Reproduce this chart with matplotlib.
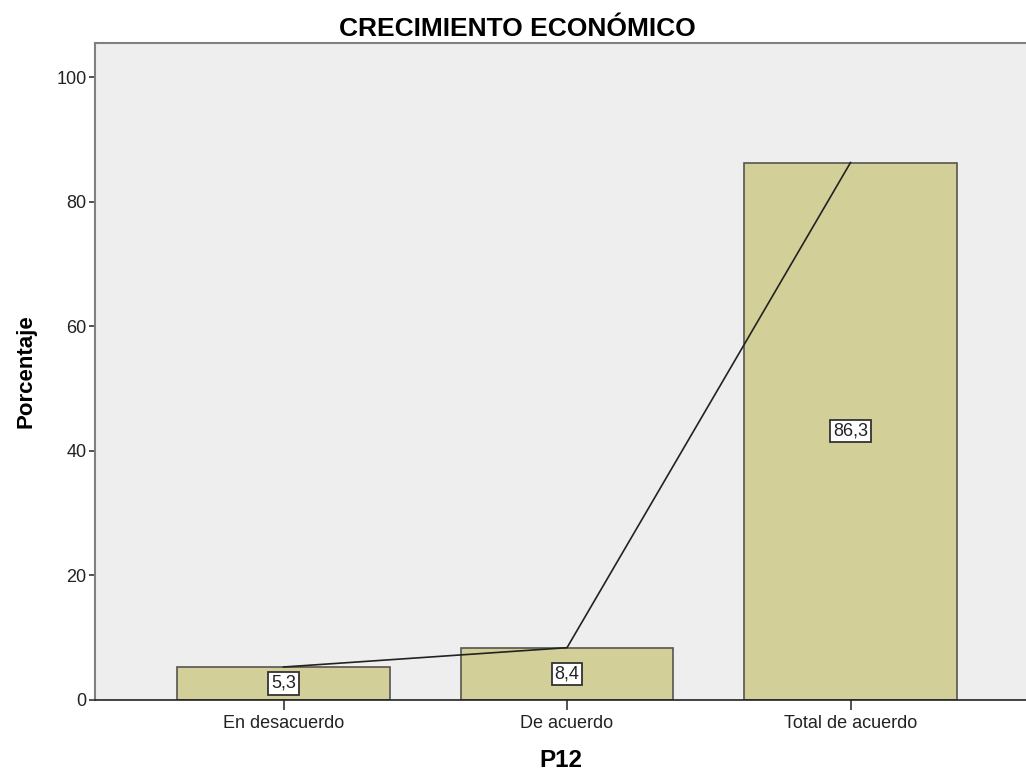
import numpy as np
import matplotlib
matplotlib.use("Agg")
import matplotlib.pyplot as plt

categorias = ["En desacuerdo", "De acuerdo", "Total de acuerdo"]
porcentajes = [5.3, 8.4, 86.3]
etiquetas = ["5,3", "8,4", "86,3"]
yticks = [0, 20, 40, 60, 80, 100]

plt.rcParams['font.family'] = ['Liberation Sans', 'DejaVu Sans']

fig = plt.figure(figsize=(10.26, 7.72), dpi=100)
ax = fig.add_axes([95 / 1026, 1 - 700 / 772, 1 - 95 / 1026, (700 - 43) / 772])
ax.set_facecolor("#eeeeee")

x = np.arange(len(categorias))
ax.bar(x, porcentajes, width=0.75, color="#d3cf98", edgecolor="#555550", linewidth=1.2, zorder=2)
ax.plot(x, porcentajes, color="#222222", linewidth=1.2, zorder=3)

for xi, val, lab in zip(x, porcentajes, etiquetas):
    ax.text(xi, val / 2, lab, ha="center", va="center", fontsize=13, color="#222222", zorder=4,
            bbox=dict(boxstyle="square,pad=0.15", facecolor="white", edgecolor="#333333", linewidth=1.3))

ax.set_xlim(-0.665, 2.619)
ax.set_ylim(0, 105.5)
ax.set_xticks(x)
ax.set_xticklabels(categorias, fontsize=13, color="#222222")
ax.set_yticks(yticks)
ax.set_yticklabels([str(t) for t in yticks], fontsize=13, color="#222222")
ax.tick_params(axis="x", length=7, width=1.2, color="#333333", pad=4)
ax.tick_params(axis="y", length=4, width=1.2, color="#333333", pad=2)

for side in ["top", "left"]:
    ax.spines[side].set_color("#808080")
    ax.spines[side].set_linewidth(1.5)
ax.spines["bottom"].set_color("#222222")
ax.spines["bottom"].set_linewidth(1.2)
ax.spines["right"].set_visible(False)

ax.set_title("CRECIMIENTO ECONÓMICO", fontsize=19, fontweight="bold", pad=5, x=(517 - 95) / (1026 - 95))
ax.set_xlabel("P12", fontsize=17.5, fontweight="bold", labelpad=12)
ax.set_ylabel("Porcentaje", fontsize=16, fontweight="bold", labelpad=14)

fig.savefig("out.png", dpi=100)
